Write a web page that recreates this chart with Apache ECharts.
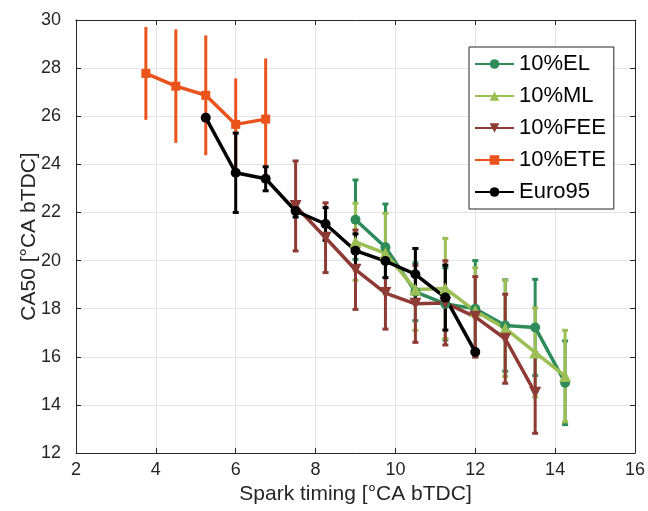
<!DOCTYPE html>
<html>
<head>
<meta charset="utf-8">
<script src="https://cdn.jsdelivr.net/npm/echarts@6/dist/echarts.min.js"></script>
<style>
html,body{margin:0;padding:0;background:#fff;}
#chart{width:648px;height:511px;}
</style>
</head>
<body>
<div id="chart"></div>
<script>
// ---- Data ----
const xTicks = [2, 4, 6, 8, 10, 12, 14, 16];
const yTicks = [12, 14, 16, 18, 20, 22, 24, 26, 28, 30];

const elX   = [9, 9.75, 10.5, 11.25, 12, 12.75, 13.5, 14.25];
const elY   = [21.7, 20.55, 18.7, 18.2, 18.0, 17.3, 17.22, 14.92];
const elErr = [1.65, 1.8, 1.2, 1.5, 2.0, 1.9, 2.0, 1.74];

const mlX   = [9, 9.75, 10.5, 11.25, 12, 12.75, 13.5, 14.25];
const mlY   = [20.78, 20.3, 18.8, 18.84, 17.9, 17.18, 16.18, 15.2];
const mlErr = [1.6, 1.66, 1.7, 2.08, 1.8, 2.0, 1.85, 1.9];

const feeX   = [7.5, 8.25, 9, 9.75, 10.5, 11.25, 12, 12.75, 13.5];
const feeY   = [22.27, 20.95, 19.62, 18.65, 18.2, 18.24, 17.66, 16.75, 14.5];
const feeErr = [1.87, 1.45, 1.65, 1.5, 1.6, 1.75, 1.67, 1.85, 1.68];

const eteX   = [3.75, 4.5, 5.25, 6, 6.75];
const eteY   = [27.78, 27.25, 26.87, 25.66, 25.88];
const eteErr = [1.93, 2.36, 2.49, 1.91, 2.52];

const euroX   = [5.25, 6, 6.75, 7.5, 8.25, 9, 9.75, 10.5, 11.25, 12];
const euroY   = [25.94, 23.65, 23.4, 22.06, 21.52, 20.41, 19.98, 19.43, 18.46, 16.2];
const euroErr = [0.1, 1.65, 0.5, 0.25, 0.68, 0.7, 0.69, 1.07, 1.35, 0.1];

const seriesDefs = [
  {name: '10%EL',  x: elX,   y: elY,   e: elErr,   color: '#2E8B5A', symbol: 'circle',   size: 10, rot: 0,   cap: 3},
  {name: '10%ML',  x: mlX,   y: mlY,   e: mlErr,   color: '#9CBF55', symbol: 'triangle', size: 12, rot: 0,   cap: 3},
  {name: '10%FEE', x: feeX,  y: feeY,  e: feeErr,  color: '#8E3A35', symbol: 'triangle', size: 12, rot: 180, cap: 3},
  {name: '10%ETE', x: eteX,  y: eteY,  e: eteErr,  color: '#EA541C', symbol: 'rect',     size: 9,  rot: 0,   cap: 0},
  {name: 'Euro95', x: euroX, y: euroY, e: euroErr, color: '#000000', symbol: 'circle',   size: 10, rot: 0,   cap: 3}
];

const FONT = '"Liberation Sans", Arial, sans-serif';
const AX = '#262626';

function errSeries(d) {
  return {
    type: 'custom',
    name: d.name + ' error',
    silent: true,
    encode: {x: 0, y: [1, 2]},
    data: d.x.map((v, i) => [v, d.y[i] - d.e[i], d.y[i] + d.e[i]]),
    renderItem: function (params, api) {
      const x = api.value(0);
      const p1 = api.coord([x, api.value(2)]);
      const p2 = api.coord([x, api.value(1)]);
      const cw = d.cap;
      const st = {stroke: d.color, lineWidth: 3};
      const kids = [{type: 'line', shape: {x1: p1[0], y1: p1[1], x2: p2[0], y2: p2[1]}, style: st}];
      if (cw > 0) {
        kids.push({type: 'line', shape: {x1: p1[0] - cw, y1: p1[1], x2: p1[0] + cw, y2: p1[1]}, style: st});
        kids.push({type: 'line', shape: {x1: p2[0] - cw, y1: p2[1], x2: p2[0] + cw, y2: p2[1]}, style: st});
      }
      return {type: 'group', children: kids};
    }
  };
}

function lineSeries(d) {
  return {
    type: 'line',
    name: d.name,
    data: d.x.map((v, i) => [v, d.y[i]]),
    symbol: d.symbol,
    symbolSize: d.size,
    symbolRotate: d.rot,
    showAllSymbol: true,
    lineStyle: {color: d.color, width: 3.5},
    itemStyle: {color: d.color},
    emphasis: {disabled: true},
    animation: false
  };
}

const series = [];
seriesDefs.forEach(d => { series.push(errSeries(d)); series.push(lineSeries(d)); });

const chart = echarts.init(document.getElementById('chart'));
chart.setOption({
  animation: false,
  backgroundColor: '#fff',
  grid: {left: 76, right: 12, top: 20, bottom: 58},
  legend: {
    data: seriesDefs.map(d => d.name),
    orient: 'vertical',
    left: 469, top: 47,
    padding: [6, 8, 6, 5],
    itemGap: 10,
    itemWidth: 39,
    itemHeight: 12,
    backgroundColor: '#fff',
    borderColor: AX,
    borderWidth: 1,
    borderRadius: 0,
    selectedMode: false,
    textStyle: {fontFamily: FONT, fontSize: 22, color: '#000', lineHeight: 22, padding: [0, 0, 0, 0]}
  },
  xAxis: [{
    type: 'value', min: 2, max: 16, interval: 2,
    name: 'Spark timing [°CA bTDC]', nameLocation: 'middle', nameGap: 31,
    nameMoveOverlap: false,
    nameTextStyle: {fontFamily: FONT, fontSize: 21, color: AX},
    axisLine: {show: true, lineStyle: {color: AX, width: 1}},
    axisTick: {show: true, inside: true, length: 5, lineStyle: {color: AX}},
    axisLabel: {fontFamily: FONT, fontSize: 18, color: AX, margin: 8},
    splitLine: {show: true, lineStyle: {color: '#e3e3e3', width: 1}}
  }, {
    type: 'value', position: 'top', min: 2, max: 16, interval: 2,
    axisLine: {show: true, lineStyle: {color: AX, width: 1}},
    axisTick: {show: true, inside: true, length: 5, lineStyle: {color: AX}},
    axisLabel: {show: false}, splitLine: {show: false}
  }],
  yAxis: [{
    type: 'value', min: 12, max: 30, interval: 2,
    name: 'CA50 [°CA bTDC]', nameLocation: 'middle', nameGap: 36, nameRotate: 90,
    nameMoveOverlap: false,
    nameTextStyle: {fontFamily: FONT, fontSize: 21, color: AX},
    axisLine: {show: true, lineStyle: {color: AX, width: 1}},
    axisTick: {show: true, inside: true, length: 5, lineStyle: {color: AX}},
    axisLabel: {fontFamily: FONT, fontSize: 18, color: AX, margin: 15},
    splitLine: {show: true, lineStyle: {color: '#e3e3e3', width: 1}}
  }, {
    type: 'value', position: 'right', min: 12, max: 30, interval: 2,
    axisLine: {show: true, lineStyle: {color: AX, width: 1}},
    axisTick: {show: true, inside: true, length: 5, lineStyle: {color: AX}},
    axisLabel: {show: false}, splitLine: {show: false}
  }],
  series: series
});
</script>
</body>
</html>
